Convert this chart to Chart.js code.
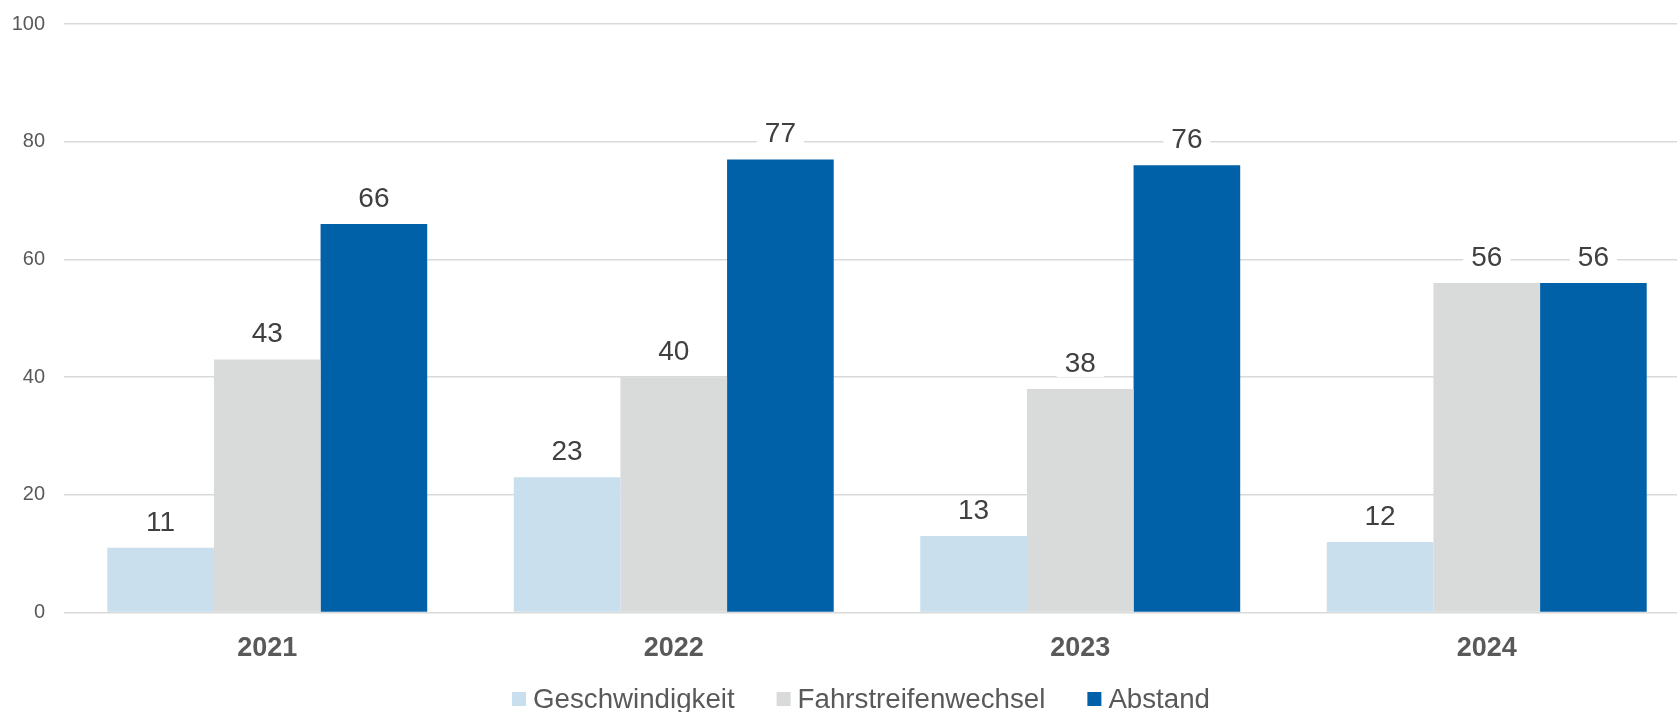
<!DOCTYPE html>
<html lang="de">
<head>
<meta charset="utf-8">
<title>Verstöße</title>
<script src="https://cdn.jsdelivr.net/npm/chart.js@4.4.1/dist/chart.umd.min.js"></script>
<style>
    html, body { margin: 0; padding: 0; background: #fff; overflow: hidden; }
    #wrap { position: relative; width: 1722px; height: 712px; }
</style>
</head>
<body>
<div id="wrap"><canvas id="chartVerstoesse"></canvas></div>
<script>
const jahre = ['2021', '2022', '2023', '2024'];
const geschwindigkeit = [11, 23, 13, 12];
const fahrstreifenwechsel = [43, 40, 38, 56];
const abstand = [66, 77, 76, 56];
const yTicks = [0, 20, 40, 60, 80, 100];

const schrift = "'Liberation Sans', Arial, Helvetica, sans-serif";

// Werte über den Balken mit weißem Hintergrund (unterbricht die Gitterlinien)
const wertLabels = {
    id: 'wertLabels',
    afterDatasetsDraw(chart) {
        const ctx = chart.ctx;
        ctx.save();
        ctx.font = '28px ' + schrift;
        ctx.textAlign = 'center';
        ctx.textBaseline = 'middle';
        chart.data.datasets.forEach((ds, i) => {
            chart.getDatasetMeta(i).data.forEach((bar, j) => {
                const txt = String(ds.data[j]);
                const w = ctx.measureText(txt).width + 16;
                const y = bar.y - 26;
                ctx.fillStyle = '#fff';
                ctx.fillRect(bar.x - w / 2, y - 14, w, 28);
                ctx.fillStyle = '#404040';
                ctx.fillText(txt, bar.x, y + 1);
            });
        });
        ctx.restore();
    }
};

// Legende unten, kompakter als die eingebaute (Abstand Kästchen-Text wie im Original)
const legendeUnten = {
    id: 'legendeUnten',
    afterDraw(chart) {
        const ctx = chart.ctx;
        const box = 14, gap = 7, abstandItems = 42;
        ctx.save();
        ctx.font = '27.7px ' + schrift;
        ctx.textBaseline = 'middle';
        const items = chart.data.datasets.map(ds => ({
            text: ds.label,
            color: ds.backgroundColor,
            w: box + gap + ctx.measureText(ds.label).width
        }));
        const total = items.reduce((s, it) => s + it.w, 0) + abstandItems * (items.length - 1);
        let x = chart.width / 2 - total / 2;
        const y = chart.height - 13;
        items.forEach(it => {
            ctx.fillStyle = it.color;
            ctx.fillRect(x, y - box / 2, box, box);
            ctx.fillStyle = '#595959';
            ctx.fillText(it.text, x + box + gap, y + 1);
            x += it.w + abstandItems;
        });
        ctx.restore();
    }
};

window.graficaVerstoesse = new Chart(document.getElementById('chartVerstoesse').getContext('2d'), {
    type: 'bar',
    data: {
        labels: jahre,
        datasets: [
            { label: 'Geschwindigkeit', data: geschwindigkeit, backgroundColor: '#C9DFEE' },
            { label: 'Fahrstreifenwechsel', data: fahrstreifenwechsel, backgroundColor: '#D9DADA' },
            { label: 'Abstand', data: abstand, backgroundColor: '#0061A8' }
        ]
    },
    options: {
        responsive: true,
        maintainAspectRatio: false,
        animation: false,
        layout: { padding: { top: 24, left: 0, right: 0, bottom: 27 } },
        datasets: {
            bar: { barPercentage: 1, categoryPercentage: 0.787 }
        },
        scales: {
            x: {
                grid: { display: false, drawTicks: false },
                border: { display: false },
                ticks: {
                    color: '#595959',
                    padding: 20,
                    font: { family: schrift, size: 27, weight: 'bold' }
                }
            },
            y: {
                min: 0,
                max: 100,
                afterBuildTicks: (axis) => { axis.ticks = yTicks.map(v => ({ value: v })); },
                afterFit: (axis) => { axis.width = 64; },
                // unsichtbare Tick-Striche statt großem Padding (sonst verschiebt sich der Plot nach unten)
                grid: { color: '#D9D9D9', lineWidth: 1.5, drawTicks: true, tickLength: 19, tickColor: 'rgba(0,0,0,0)' },
                border: { display: false },
                ticks: {
                    color: '#595959',
                    padding: 0,
                    font: { family: schrift, size: 20 }
                }
            },
            // leere Achse rechts, damit der Plotbereich wie im Original beschnitten ist
            rechts: {
                position: 'right',
                display: true,
                afterFit: (axis) => { axis.width = 32; },
                grid: { display: false },
                border: { display: false },
                ticks: { display: false }
            }
        },
        plugins: {
            legend: { display: false },
            tooltip: { enabled: false }
        }
    },
    plugins: [wertLabels, legendeUnten]
});
</script>
</body>
</html>
